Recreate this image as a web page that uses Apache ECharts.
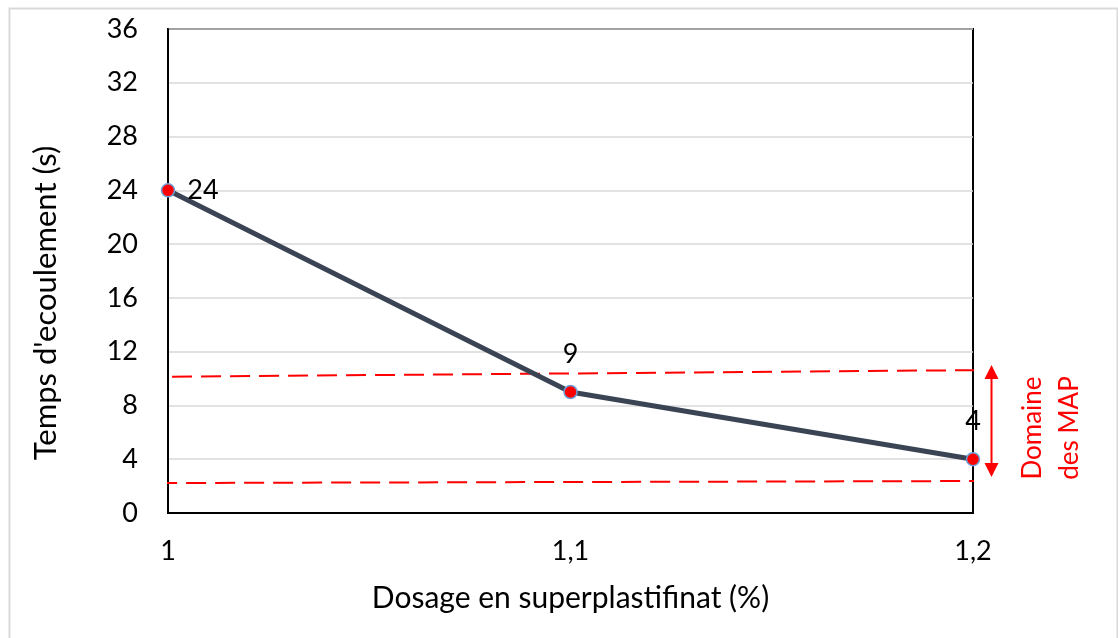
<!DOCTYPE html>
<html>
<head>
<meta charset="utf-8">
<script src="https://cdn.jsdelivr.net/npm/echarts@6/dist/echarts.min.js"></script>
<style>html,body{margin:0;padding:0;background:#fff}#c{width:1118px;height:638px}</style>
</head>
<body>
<div id="c"></div>
<script>
const dosage = [1, 1.1, 1.2];
const temps = [24, 9, 4];
const xTickLabels = ['1', '1,1', '1,2'];
const yTicks = [0, 4, 8, 12, 16, 20, 24, 28, 32, 36];
const upperLimit = [[0.9938, 10.12], [1.2062, 10.64]];
const lowerLimit = [[0.9973, 2.23], [1.2032, 2.38]];
const arrowRange = [[1.2046, 11.0], [1.2046, 2.68]];
const domainLabel = 'Domaine\ndes MAP';
const xName = 'Dosage en superplastifinat (%)';
const yName = "Temps d'ecoulement (s)";

const FONT = 'Lato, "Open Sans", sans-serif';
const TICK = 27;
const chart = echarts.init(document.getElementById('c'), null, {renderer: 'canvas'});
chart.setOption({
  animation: false,
  textStyle: {fontFamily: FONT},
  grid: {left: 168, right: 145, top: 29, bottom: 125, show: true, borderColor: '#000', borderWidth: 2, backgroundColor: 'transparent'},
  xAxis: {
    type: 'value', min: dosage[0], max: dosage[dosage.length - 1], interval: 0.1,
    axisLine: {show: true, lineStyle: {color: '#000', width: 2}},
    axisTick: {show: false},
    splitLine: {show: false},
    axisLabel: {
      fontSize: TICK, color: '#000', margin: 25, fontFamily: FONT,
      formatter: function (v) {
        const i = dosage.findIndex(d => Math.abs(d - v) < 1e-6);
        return i >= 0 ? xTickLabels[i] : '';
      }
    },
    name: xName, nameLocation: 'middle', nameGap: 70,
    nameTextStyle: {fontSize: 30, color: '#000', fontFamily: FONT}
  },
  yAxis: {
    type: 'value', min: yTicks[0], max: yTicks[yTicks.length - 1], interval: 4,
    axisLine: {show: true, lineStyle: {color: '#000', width: 2}},
    axisTick: {show: false},
    splitLine: {show: true, lineStyle: {color: '#d9d9d9', width: 1.5}},
    axisLabel: {fontSize: TICK, color: '#000', margin: 30, fontFamily: FONT}
  },
  series: [
    {
      type: 'line', data: upperLimit, clip: false, symbol: 'none', silent: true,
      lineStyle: {color: '#ff0000', width: 2, type: [20, 9]}, z: 3
    },
    {
      type: 'line', data: lowerLimit, clip: false, symbol: 'none', silent: true,
      lineStyle: {color: '#ff0000', width: 2, type: [20, 9]}, z: 3
    },
    {
      type: 'custom', clip: false, silent: true, z: 4,
      data: [arrowRange[0].concat(arrowRange[1])],
      renderItem: function (params, api) {
        const a = api.coord([api.value(0), api.value(1)]);
        const b = api.coord([api.value(2), api.value(3)]);
        const h = 14, w = 7;
        return {
          type: 'group',
          children: [
            {type: 'line', shape: {x1: a[0], y1: a[1] + h - 2, x2: b[0], y2: b[1] - h + 2}, style: {stroke: '#ff0000', lineWidth: 2}},
            {type: 'polygon', shape: {points: [[a[0], a[1]], [a[0] - w, a[1] + h], [a[0] + w, a[1] + h]]}, style: {fill: '#ff0000'}},
            {type: 'polygon', shape: {points: [[b[0], b[1]], [b[0] - w, b[1] - h], [b[0] + w, b[1] - h]]}, style: {fill: '#ff0000'}}
          ]
        };
      }
    },
    {
      type: 'line',
      data: dosage.map((d, i) => i === 0
        ? {value: [d, temps[i]], label: {position: 'right', distance: 12}}
        : [d, temps[i]]),
      clip: false,
      lineStyle: {color: '#3a4454', width: 5},
      symbol: 'circle', symbolSize: 13,
      itemStyle: {color: '#ff0000', borderColor: '#6fa0d8', borderWidth: 1.5},
      label: {
        show: true, fontSize: TICK, color: '#000', fontFamily: FONT,
        formatter: p => String(p.value[1]),
        position: 'top', distance: 17
      },
      z: 5
    }
  ],
  graphic: [
    {type: 'rect', left: 7, top: 6, shape: {width: 1108, height: 640}, style: {fill: 'none', stroke: '#d9d9d9', lineWidth: 2}, silent: true, z: -1},
    {
      type: 'text', x: 46, y: 303, rotation: Math.PI / 2,
      style: {text: yName, fill: '#000', fontSize: 31, fontFamily: FONT, align: 'center', verticalAlign: 'middle'}
    },
    {
      type: 'text', x: 1051, y: 428, rotation: Math.PI / 2,
      style: {text: domainLabel, fill: '#ff0000', fontSize: 26, fontFamily: FONT, align: 'center', verticalAlign: 'middle', lineHeight: 37}
    }
  ]
});
</script>
</body>
</html>
